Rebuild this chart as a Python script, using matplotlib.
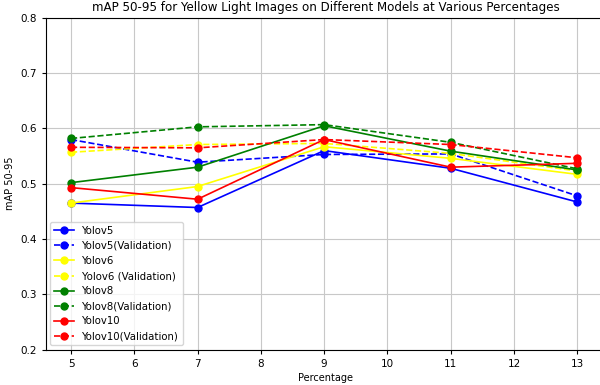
import matplotlib
matplotlib.use('Agg')
import matplotlib.pyplot as plt

percentages = [5, 7, 9, 11, 13]

yolov5 = [0.465, 0.457, 0.560, 0.528, 0.467]
yolov5_val = [0.580, 0.539, 0.553, 0.554, 0.478]
yolov6 = [0.465, 0.495, 0.567, 0.546, 0.517]
yolov6_val = [0.557, 0.571, 0.573, 0.555, 0.523]
yolov8 = [0.502, 0.530, 0.605, 0.559, 0.525]
yolov8_val = [0.582, 0.603, 0.607, 0.575, 0.527]
yolov10 = [0.493, 0.472, 0.580, 0.530, 0.537]
yolov10_val = [0.566, 0.565, 0.580, 0.571, 0.547]

fig = plt.figure(figsize=(6, 3.85), dpi=100)
# right edge of the axes falls just outside the picture, as in the original
ax = fig.add_axes([45.7 / 600, 35.5 / 385, 560 / 600, 331.5 / 385])

style = dict(linewidth=1.2, markersize=5)
ax.plot(percentages, yolov5, 'o-', color='blue', label='Yolov5', **style)
ax.plot(percentages, yolov5_val, 'o--', color='blue', label='Yolov5(Validation)', **style)
ax.plot(percentages, yolov6, 'o-', color='yellow', label='Yolov6', **style)
ax.plot(percentages, yolov6_val, 'o--', color='yellow', label='Yolov6 (Validation)', **style)
ax.plot(percentages, yolov8, 'o-', color='green', label='Yolov8', **style)
ax.plot(percentages, yolov8_val, 'o--', color='green', label='Yolov8(Validation)', **style)
ax.plot(percentages, yolov10, 'o-', color='red', label='Yolov10', **style)
ax.plot(percentages, yolov10_val, 'o--', color='red', label='Yolov10(Validation)', **style)

ax.set_ylim(0.2, 0.8)
ax.set_xlim(4.6, 13.45)
ax.set_xticks(range(5, 14))
ax.tick_params(labelsize=7.5, length=3)
ax.set_title('mAP 50-95 for Yellow Light Images on Different Models at Various Percentages',
             fontsize=8.55, pad=5)
ax.set_xlabel('Percentage', fontsize=7, labelpad=3)
ax.set_ylabel('mAP 50-95', fontsize=7)
ax.grid(True, color='#c8c8c8')
ax.legend(loc='lower left', fontsize=7.3, borderaxespad=0.4)

fig.savefig('out.png')
